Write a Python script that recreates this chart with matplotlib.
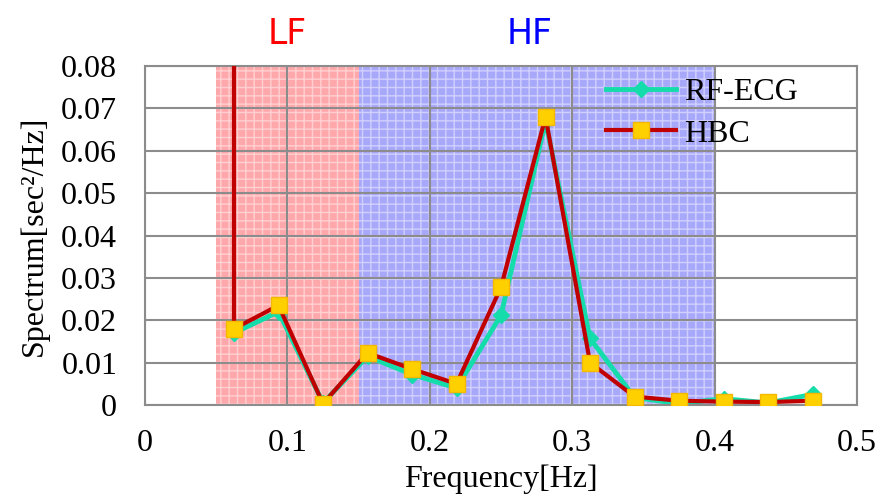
import matplotlib
matplotlib.use("Agg")
import matplotlib.pyplot as plt

# Frequencia (Hz) de cada punto del espectro
freq = [0.0625, 0.09375, 0.125, 0.15625, 0.1875, 0.21875, 0.25,
        0.28125, 0.3125, 0.34375, 0.375, 0.40625, 0.4375, 0.46875]

rf_ecg = [0.0170, 0.0220, 0.0005, 0.0115, 0.0072, 0.0040, 0.0212,
          0.0670, 0.0157, 0.0018, 0.0003, 0.0015, 0.0005, 0.0025]

# HBC arranca con un valor fuera de escala (linea vertical en 0.0625)
hbc_freq = [0.0625] + freq
hbc = [0.1000, 0.0180, 0.0235, 0.0003, 0.0123, 0.0085, 0.0050, 0.0278,
       0.0680, 0.0100, 0.0020, 0.0010, 0.0008, 0.0007, 0.0010]

lf_band = (0.05, 0.15)
hf_band = (0.15, 0.4)

serif = "Liberation Serif"

fig = plt.figure(figsize=(8.81, 4.98), dpi=100)
ax = fig.add_axes([0.1646, 0.1867, 0.8082, 0.6808])

# Bandas LF / HF
ax.axvspan(*lf_band, facecolor="#ffa8ac", edgecolor="#ffd0d0", hatch="++",
           linewidth=0, zorder=0.2)
ax.axvspan(*hf_band, facecolor="#a8a8fa", edgecolor="#d0d0ff", hatch="++",
           linewidth=0, zorder=0.2)

ax.plot(freq, rf_ecg, color="#14dcaa", linewidth=3.5, marker="D",
        markersize=8, label="RF-ECG", zorder=2)
ax.plot(hbc_freq, hbc, color="#c00000", linewidth=3, marker="s",
        markersize=11, markerfacecolor="#ffd000", markeredgecolor="#f5b800",
        markeredgewidth=1, label="HBC", zorder=3)

ax.set_xlim(0, 0.5)
ax.set_ylim(0, 0.08)
ax.set_xticks([0, 0.1, 0.2, 0.3, 0.4, 0.5])
ax.set_xticklabels(["0", "0.1", "0.2", "0.3", "0.4", "0.5"])
ax.set_yticks([0, 0.01, 0.02, 0.03, 0.04, 0.05, 0.06, 0.07, 0.08])
ax.set_yticklabels(["0", "0.01", "0.02", "0.03", "0.04", "0.05", "0.06", "0.07", "0.08"])

ax.set_axisbelow(True)
ax.grid(True, color="#8c8c8c", linewidth=1.5)
for s in ax.spines.values():
    s.set_color("#8c8c8c")
    s.set_linewidth(1.5)
ax.tick_params(length=0, labelsize=23)
ax.tick_params(axis="y", pad=20)
ax.tick_params(axis="x", pad=17)
for lbl in ax.get_xticklabels() + ax.get_yticklabels():
    lbl.set_family(serif)

ax.set_xlabel("Frequency[Hz]", family=serif, fontsize=23, labelpad=5)
ax.set_ylabel("Spectrum[sec²/Hz]", family=serif, fontsize=23, labelpad=9)

ax.text(0.1, 1.045, "LF", transform=ax.get_xaxis_transform(), color="red",
        fontsize=25, ha="center", va="bottom", family="DejaVu Sans")
ax.text(0.27, 1.045, "HF", transform=ax.get_xaxis_transform(), color="blue",
        fontsize=25, ha="center", va="bottom", family="DejaVu Sans")

ax.legend(loc="upper left", bbox_to_anchor=(0.607, 1.05), frameon=False,
          prop={"family": serif, "size": 23}, handlelength=2.2,
          handletextpad=0.25, labelspacing=0.38)

fig.savefig("out.png", dpi=100)
